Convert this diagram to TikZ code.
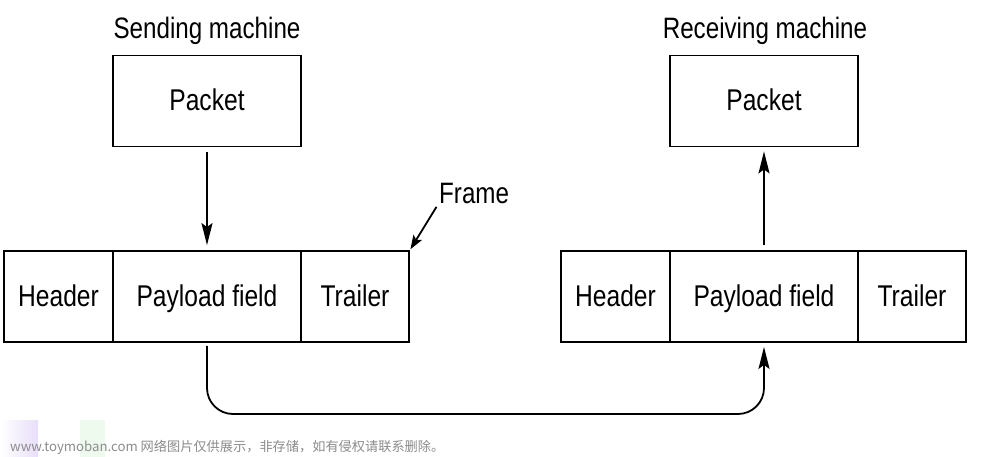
\documentclass[tikz,border=0pt]{standalone}
\usepackage{fontspec}
\setmainfont{Liberation Sans}[FakeStretch=0.82]
\newfontfamily\cjk{Noto Sans CJK SC}
\usetikzlibrary{arrows.meta}
\definecolor{wmpurple}{RGB}{232,222,250}
\definecolor{wmgreen}{RGB}{238,250,238}
\tikzset{
  cell/.style={draw, line width=1.8pt, rectangle, minimum height=91pt, inner sep=0pt,
               text height=22pt, text depth=3pt,
               font=\fontsize{30}{34}\selectfont},
  title/.style={font=\fontsize{29.5}{34}\selectfont, inner sep=2pt},
  arr/.style={line width=1.8pt, -{Stealth[length=22pt,width=11pt,inset=4pt]}},
  arrsmall/.style={line width=1.8pt, -{Stealth[length=14pt,width=10pt,inset=3pt]}},
  wm/.style={font=\cjk\fontsize{13.2}{15}\selectfont, text=black!45, inner sep=0pt, anchor=west}
}
\begin{document}
\begin{tikzpicture}[x=1pt,y=-1pt]
\useasboundingbox (0,0) rectangle (1000,457);
\fill[white] (0,0) rectangle (1000,457);
% faint watermark patches
\fill[left color=white, right color=wmpurple] (0,420) rectangle (38,457);
\fill[wmgreen] (80,420) rectangle (105,457);

% sending side
\node[title] (stitle) at (207,31) {Sending machine};
\node[cell, minimum width=188pt] (spk) at (207,101) {Packet};
\node[cell, minimum width=109pt] (sh) at (58.5,296.5) {Header};
\node[cell, minimum width=188pt] (sp) at (207,296.5) {Payload field};
\node[cell, minimum width=108pt] (st) at (355,296.5) {Trailer};

% receiving side
\node[title] (rtitle) at (765,31) {Receiving machine};
\node[cell, minimum width=188pt] (rpk) at (764,101) {Packet};
\node[cell, minimum width=109pt] (rh) at (615.5,296.5) {Header};
\node[cell, minimum width=188pt] (rp) at (764,296.5) {Payload field};
\node[cell, minimum width=108pt] (rt) at (912,296.5) {Trailer};

% frame label
\node[title, anchor=south west] (frm) at (437,206) {Frame};

% connectors
\draw[arr, shorten <=5pt, shorten >=5pt] (spk.south) -- (sp.north);
\draw[arr, shorten <=5pt, shorten >=4pt] (rp.north) -- (rpk.south);
\draw[arrsmall, shorten <=1pt, shorten >=1pt] (frm.south west) -- (st.north east);
\coordinate (low) at (0,414);
\draw[arr, rounded corners=26pt, shorten <=3pt, shorten >=4pt]
  (sp.south) -- (sp.south |- low) -- (rp.south |- low) -- (rp.south);

% watermark
\node[wm] (wmtext) at (10,447) {www.toymoban.com 网络图片仅供展示，非存储，如有侵权请联系删除。};
\end{tikzpicture}
\end{document}
